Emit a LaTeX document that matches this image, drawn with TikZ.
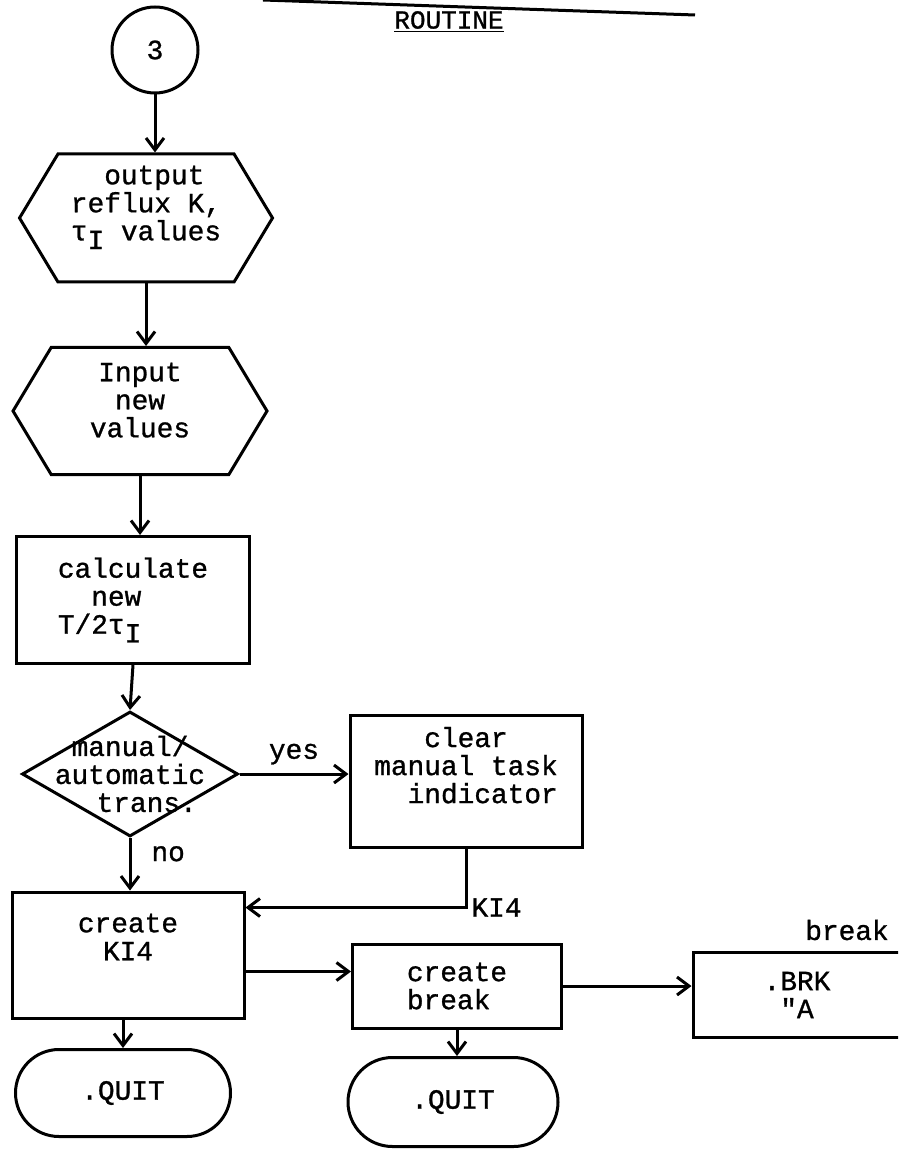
\documentclass[tikz,border=0pt]{standalone}
\usepackage{fontspec}
\newfontfamily\typefont[FakeBold=1]{Liberation Mono}
\usetikzlibrary{shapes.geometric,shapes.symbols,shapes.misc,arrows.meta}

\tikzset{
  flow/.style={draw, line width=1.5pt, inner sep=0pt, font=\typefont\fontsize{13.9}{14}\selectfont},
  procbox/.style={flow, rectangle, align=center},
  iobox/.style={flow, signal, signal to=east and west, signal pointer angle=118, align=center},
  testbox/.style={flow, diamond},
  endbox/.style={flow, rounded rectangle},
  conn/.style={flow, circle},
  note/.style={font=\typefont\fontsize{13.9}{14}\selectfont, inner sep=2pt}
}
\newcommand{\tauI}{τ\raisebox{-0.6ex}{I}}

\begin{document}
\begin{tikzpicture}[x=0.5pt, y=-0.5pt, line width=1.5pt, >={Straight Barb[length=6pt,width=9pt]}]
  \useasboundingbox (0,0) rectangle (898,1149);
  \clip (0,0) rectangle (898,1149);

  % Heading
  \draw (263,0) -- (695,15);
  \node[note, font=\typefont\fontsize{13}{14}\selectfont] (title) at (449,22) {\underline{ROUTINE}};

  % Main column
  \node[conn, minimum size=43pt] (start) at (155,50) {3};
  \node[iobox, minimum width=126.5pt, minimum height=64pt, align=left, text depth=15pt] (out) at (146,218) {~~output\\reflux K,\\\tauI{} values};
  \node[iobox, minimum width=127pt, minimum height=63.5pt, text depth=11pt] (inp) at (140,411) {Input\\new\\values};
  \node[procbox, minimum width=116.5pt, minimum height=63.5pt, align=left] (calc) at (133,600) {calculate\\~~new\\T/2\tauI};
  \node[testbox, minimum width=108pt, minimum height=62.5pt,
        label={[note, align=center, inner sep=0pt]center:{manual/\\automatic\\~~trans.}}] (dec) at (130,774) {};
  \node[procbox, minimum width=116pt, minimum height=66pt, text depth=16pt] (clr) at (466,781) {clear\\manual task\\~~indicator};
  \node[procbox, minimum width=116pt, minimum height=63pt, text depth=18pt] (ki) at (128,955) {create\\KI4};
  \node[procbox, minimum width=104.5pt, minimum height=42pt, align=left] (brk) at (457,986) {create\\break};
  \node[procbox, minimum width=104pt, minimum height=42.5pt] (brkA) at (797,995) {.BRK\\"A};
  \node[note] (brkname) at (847,930) {break};
  \node[endbox, minimum width=107.5pt, minimum height=43.5pt] (quitA) at (123,1093) {.QUIT};
  \node[endbox, minimum width=105pt, minimum height=44.5pt] (quitB) at (453,1102) {.QUIT};

  % Connections
  \draw[->] (start.south) -- (start.south |- out.north);
  \draw[->] (out.south) -- (out.south |- inp.north);
  \draw[->] (inp.south) -- (inp.south |- calc.north);
  \draw[->] (calc.south) -- (dec.north);
  \draw[->] (dec.east) -- (dec.east -| clr.west) node[note, midway, above=2pt] {yes};
  \draw[->] (dec.south) -- (dec.south |- ki.north) node[note, pos=0.3, right=8pt] {no};
  \draw[->] (clr.south) |- (ki.22) node[note, pos=0.5, right] {KI4};
  \draw[->] (ki.-8) -- (ki.-8 -| brk.west);
  \draw[->] (brk.east) -- (brk.east -| brkA.west);
  \draw[->] (quitA.north |- ki.south) -- (quitA.north);
  \draw[->] (brk.south) -- (brk.south |- quitB.north);
\end{tikzpicture}
\end{document}
